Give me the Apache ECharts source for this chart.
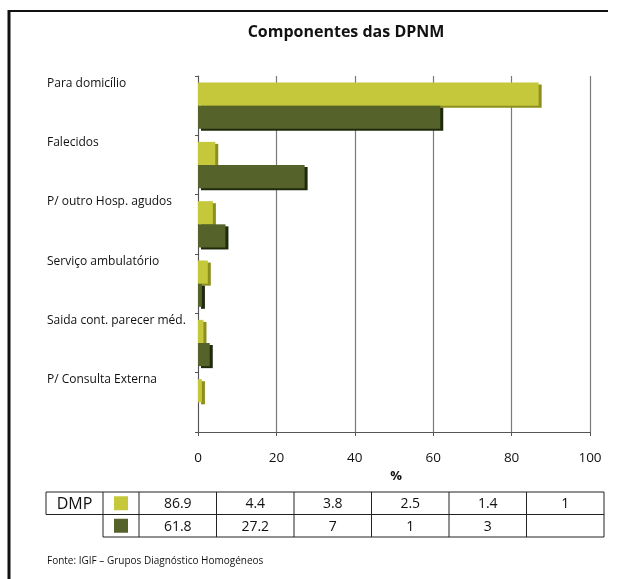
<!DOCTYPE html>
<html>
<head>
<meta charset="utf-8">
<script src="https://cdn.jsdelivr.net/npm/echarts@6/dist/echarts.min.js"></script>
<style>
  html, body { margin: 0; padding: 0; background: #fff; }
  #chart { width: 617px; height: 579px; }
</style>
</head>
<body>
<div id="chart"></div>
<script>
// Categories of the DPNM components, top to bottom
const categories = [
  'Para domicílio',
  'Falecidos',
  'P/ outro Hosp. agudos',
  'Serviço ambulatório',
  'Saida cont. parecer méd.',
  'P/ Consulta Externa'
];
// Percentages per group (light and dark series)
const lightValues = [86.9, 4.4, 3.8, 2.5, 1.4, 1];
const darkValues = [61.8, 27.2, 7, 1, 3, null];
// Value axis ticks
const xTicks = [0, 20, 40, 60, 80, 100];
const tableLabel = 'DMP';
const sourceText = 'Fonte: IGIF – Grupos Diagnóstico Homogéneos';

const LIGHT = '#c4c83a';
const LIGHT_EDGE = '#8c8f1e';
const DARK = '#55622a';
const DARK_EDGE = '#1f2a0c';
const FONT = "'Open Sans', 'Noto Sans', sans-serif";

const chart = echarts.init(document.getElementById('chart'), null, { renderer: 'canvas' });

// Data table below the chart
const tableLeft = 46, labelRight = 103, swatchRight = 139, tableRight = 604;
const rowTops = [492, 514.5], rowH = 22.5;
const cellW = (tableRight - swatchRight) / lightValues.length;
const lineStyle = { stroke: '#222', lineWidth: 1 };
const tableGraphics = [];

function hLine(x1, x2, y) {
  tableGraphics.push({ type: 'line', shape: { x1, y1: y, x2, y2: y }, style: lineStyle, silent: true });
}
function vLine(x, y1, y2) {
  tableGraphics.push({ type: 'line', shape: { x1: x, y1, x2: x, y2 }, style: lineStyle, silent: true });
}

// borders
hLine(tableLeft, tableRight, rowTops[0]);
hLine(tableLeft, tableRight, rowTops[1]);
hLine(labelRight, tableRight, rowTops[1] + rowH);
vLine(tableLeft, rowTops[0], rowTops[1]);
vLine(labelRight, rowTops[0], rowTops[1] + rowH);
for (let i = 0; i <= lightValues.length; i++) {
  vLine(swatchRight + i * cellW, rowTops[0], rowTops[1] + rowH);
}
// label cell
tableGraphics.push({
  type: 'text', silent: true,
  style: { text: tableLabel, x: (tableLeft + labelRight) / 2, y: rowTops[0] + rowH / 2 + 1,
           textAlign: 'center', textVerticalAlign: 'middle', font: '16px ' + FONT, fill: '#111' }
});
// swatches
[[LIGHT, 0], [DARK, 1]].forEach(([c, r]) => {
  tableGraphics.push({
    type: 'rect', silent: true,
    shape: { x: (labelRight + swatchRight) / 2 - 7, y: rowTops[r] + rowH / 2 - 7, width: 14, height: 14 },
    style: { fill: c }
  });
});
// values
[lightValues, darkValues].forEach((vals, r) => {
  vals.forEach((v, i) => {
    tableGraphics.push({
      type: 'text', silent: true,
      style: { text: v == null ? '' : String(v), x: swatchRight + (i + 0.5) * cellW, y: rowTops[r] + rowH / 2 + 1,
               textAlign: 'center', textVerticalAlign: 'middle', font: '14px ' + FONT, fill: '#111' }
    });
  });
});

const option = {
  backgroundColor: '#fff',
  animation: false,
  title: {
    text: 'Componentes das DPNM',
    left: 341, top: 19, textAlign: 'center',
    textStyle: { fontFamily: FONT, fontWeight: 'bold', fontSize: 16, color: '#111' }
  },
  grid: { left: 198, right: 27, top: 76, bottom: 147 },
  xAxis: {
    type: 'value',
    min: xTicks[0], max: xTicks[xTicks.length - 1], interval: xTicks[1] - xTicks[0],
    name: '%', nameLocation: 'middle', nameGap: 29,
    nameTextStyle: { fontFamily: FONT, fontWeight: 'bold', fontSize: 13, color: '#111', padding: [0, 0, 0, 4] },
    axisLine: { show: true, lineStyle: { color: '#555', width: 1 } },
    axisTick: { show: true, length: 4, lineStyle: { color: '#555' } },
    axisLabel: { margin: 19, fontFamily: FONT, fontSize: 13.5, color: '#111' },
    splitLine: { show: true, lineStyle: { color: '#7a7a7a', width: 1.2 } }
  },
  yAxis: {
    type: 'category',
    data: categories,
    inverse: true,
    axisLine: { show: true, lineStyle: { color: '#555', width: 1 } },
    axisTick: { show: true, length: 3, lineStyle: { color: '#555' } },
    axisLabel: {
      align: 'left', margin: 151,
      // category name sits at the top of its band
      formatter: (v) => '{t|' + v + '}\n{s|}',
      rich: {
        t: { fontFamily: FONT, fontSize: 12, color: '#111', height: 15 },
        s: { height: 45 }
      }
    }
  },
  series: [
    {
      type: 'bar', data: lightValues, barGap: '0%', barCategoryGap: '22%',
      itemStyle: { color: LIGHT, shadowColor: LIGHT_EDGE, shadowOffsetX: 3, shadowOffsetY: 2, shadowBlur: 0 }
    },
    {
      type: 'bar', data: darkValues,
      itemStyle: { color: DARK, shadowColor: DARK_EDGE, shadowOffsetX: 3, shadowOffsetY: 2, shadowBlur: 0 }
    }
  ],
  graphic: [
    // page frame (top and left rules)
    { type: 'line', silent: true, shape: { x1: 8, y1: 11, x2: 608, y2: 11 }, style: { stroke: '#111', lineWidth: 2 } },
    { type: 'line', silent: true, shape: { x1: 9, y1: 10, x2: 9, y2: 579 }, style: { stroke: '#111', lineWidth: 3 } },
    ...tableGraphics,
    {
      type: 'text', silent: true,
      style: { text: sourceText, x: 47, y: 561, textVerticalAlign: 'middle', font: '10px ' + FONT, fill: '#111' }
    }
  ]
};

chart.setOption(option);
</script>
</body>
</html>
